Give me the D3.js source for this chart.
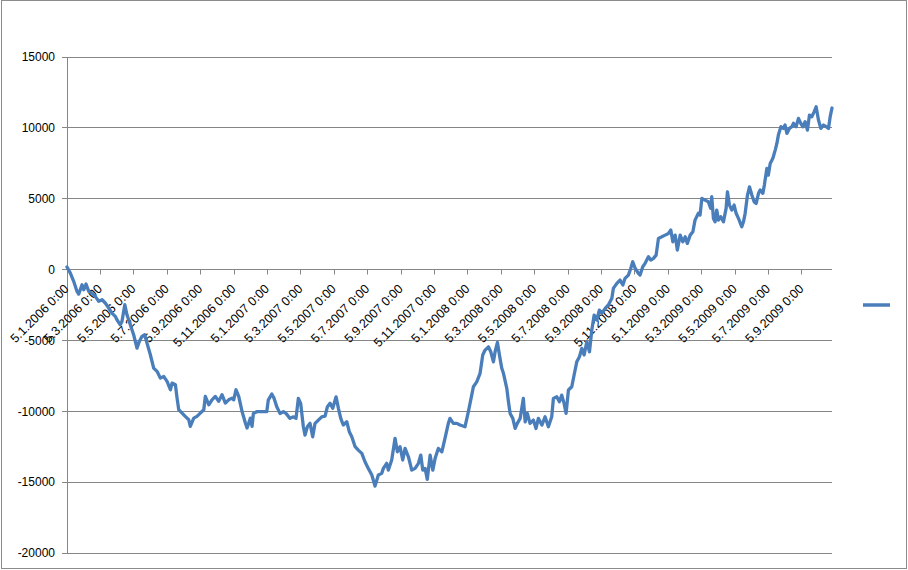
<!DOCTYPE html>
<html><head><meta charset="utf-8">
<script src="https://cdn.jsdelivr.net/npm/d3@7"></script>
<style>html,body{margin:0;padding:0;background:#fff;} svg{display:block;font-family:"Liberation Sans",Arial,sans-serif;}</style>
</head><body><svg id="c" width="908" height="570"></svg>
<script>
const tickLabels = ["5.1.2006 0:00","5.3.2006 0:00","5.5.2006 0:00","5.7.2006 0:00","5.9.2006 0:00","5.11.2006 0:00",
  "5.1.2007 0:00","5.3.2007 0:00","5.5.2007 0:00","5.7.2007 0:00","5.9.2007 0:00","5.11.2007 0:00",
  "5.1.2008 0:00","5.3.2008 0:00","5.5.2008 0:00","5.7.2008 0:00","5.9.2008 0:00","5.11.2008 0:00",
  "5.1.2009 0:00","5.3.2009 0:00","5.5.2009 0:00","5.7.2009 0:00","5.9.2009 0:00"];
const tickMonths = [0,2,4,6,8,10,12,14,16,18,20,22,24,26,28,30,32,34,36,38,40,42,44];
const yTicks = [-20000,-15000,-10000,-5000,0,5000,10000,15000];
// months since 5.1.2006
const months = [
0.00,0.20,0.40,0.60,0.70,0.90,1.00,1.14,1.30,1.50,
1.69,1.90,2.10,2.29,2.50,2.69,2.89,2.99,3.19,3.29,
3.46,3.59,3.79,3.99,4.19,4.33,4.49,4.65,4.79,4.99,
5.19,5.39,5.59,5.79,5.99,6.19,6.29,6.49,6.59,6.69,
6.89,7.08,7.29,7.38,7.59,7.78,7.98,8.19,8.28,8.49,
8.68,8.88,9.08,9.28,9.48,9.68,9.88,9.98,10.12,10.28,
10.48,10.68,10.78,10.98,11.08,11.16,11.36,11.96,12.05,12.26,
12.40,12.56,12.75,12.95,13.11,13.35,13.55,13.71,13.85,13.99,
14.15,14.25,14.39,14.55,14.71,14.85,15.05,15.25,15.45,15.59,
15.75,15.91,16.11,16.25,16.39,16.54,16.75,16.90,17.05,17.25,
17.44,17.65,17.84,18.04,18.25,18.44,18.64,18.84,18.94,19.14,
19.24,19.44,19.64,19.78,19.94,20.10,20.24,20.44,20.64,20.84,
21.04,21.18,21.30,21.44,21.57,21.74,21.90,22.04,22.23,22.44,
22.63,22.83,22.93,23.13,23.34,23.53,23.83,24.03,24.23,24.33,
24.53,24.73,24.89,25.03,25.23,25.37,25.53,25.63,25.77,25.89,
26.03,26.13,26.33,26.43,26.53,26.69,26.83,26.96,27.13,27.32,
27.43,27.56,27.72,27.92,28.08,28.22,28.43,28.62,28.82,29.02,
29.12,29.32,29.48,29.62,29.76,29.88,30.02,30.22,30.36,30.52,
30.68,30.82,30.96,31.12,31.28,31.42,31.56,31.72,31.87,32.02,
32.22,32.41,32.62,32.71,32.92,33.11,33.28,33.41,33.61,33.75,
33.87,34.01,34.21,34.31,34.47,34.61,34.81,34.95,35.11,35.27,
35.41,35.61,35.81,36.01,36.15,36.27,36.41,36.54,36.71,36.87,
37.01,37.14,37.31,37.47,37.60,37.80,37.90,38.01,38.20,38.40,
38.54,38.60,38.70,38.80,38.90,39.00,39.14,39.30,39.46,39.54,
39.66,39.80,39.94,40.06,40.20,40.40,40.50,40.60,40.74,40.86,
41.00,41.14,41.26,41.40,41.50,41.66,41.75,41.90,41.99,42.10,
42.26,42.40,42.50,42.59,42.74,42.89,42.99,43.10,43.25,43.40,
43.49,43.65,43.79,43.93,44.05,44.19,44.33,44.45,44.59,44.73,
44.85,44.99,45.13,45.29,45.45,45.59,45.69,45.75,45.80];
const values = [
180,-250,-830,-1540,-1730,-1070,-1425,-1020,-1540,-1660,
-1890,-2240,-2130,-2360,-2720,-3070,-3300,-3540,-3900,-3660,
-2480,-3190,-3900,-4600,-5540,-5070,-4710,-4600,-5190,-6010,
-6950,-7180,-7660,-7540,-7890,-8480,-8010,-8130,-9070,-9890,
-10130,-10360,-10600,-11060,-10480,-10360,-10130,-9890,-8950,-9540,
-9190,-8950,-9300,-8830,-9420,-9190,-9070,-9190,-8480,-8950,
-10010,-10830,-11180,-10480,-11060,-10150,-10030,-10030,-9210,-8780,
-9090,-9680,-10150,-10030,-10150,-10500,-10390,-10500,-9090,-9440,
-11090,-11680,-11090,-10850,-11800,-10850,-10620,-10390,-10340,-9680,
-9440,-9790,-8980,-9790,-10500,-10970,-10740,-11440,-11800,-12500,
-12740,-12970,-13560,-14030,-14500,-15280,-14500,-14380,-14030,-13670,
-14150,-13440,-11910,-12860,-12500,-13440,-12620,-13210,-14150,-14030,
-13670,-13090,-14150,-14030,-14800,-13090,-14150,-13320,-12620,-12860,
-11910,-10850,-10500,-10850,-10850,-10970,-11090,-10030,-8860,-8270,
-7920,-7320,-6030,-5680,-5450,-5800,-6510,-5800,-5140,-6030,
-6970,-7320,-8380,-9330,-10150,-10500,-11210,-10850,-10500,-9090,
-10740,-10150,-10850,-10620,-11210,-10500,-10970,-10390,-11090,-10390,
-9090,-8980,-9330,-8860,-9440,-10150,-8500,-8270,-7440,-6510,
-6150,-5560,-6030,-5090,-5800,-4270,-3210,-3560,-2860,-3090,
-2740,-2500,-2030,-1330,-970,-740,-1090,-620,-390,80,
550,110,-270,-390,200,440,900,670,790,1020,
2200,2310,2430,2550,2790,1960,2430,1380,2430,1960,
2310,1850,2430,2670,3490,3970,3850,5020,4900,4780,
4320,5140,3610,3370,4200,3490,3730,3370,4320,5490,
4550,4200,4550,3970,3610,3020,3370,3970,5260,5840,
5260,4780,4670,5380,5610,5380,5960,7140,6670,7490,
7850,8430,8900,9490,10080,9960,10200,9610,9960,10080,
10320,10080,10670,10320,10080,10430,9840,10900,10780,11130,
11490,10550,9960,10200,10080,9960,10780,11130,11400];

const W = 908, H = 570;
const svg = d3.select('#c');
svg.append('rect').attr('x',0).attr('y',0).attr('width',W).attr('height',H).attr('fill','#fff');
svg.append('rect').attr('x',1.5).attr('y',0.5).attr('width',W-3).attr('height',H-2)
  .attr('fill','none').attr('stroke','#8c8c8c').attr('stroke-width',1);

const x = d3.scaleLinear().domain([0,45.8]).range([67,832]);
const y = d3.scaleLinear().domain([-20000,15000]).range([553,57]);
const gridC = '#868686';
const px = v => Math.floor(v) + 0.5;

// gridlines + y ticks
const g = svg.append('g');
g.selectAll('line.grid').data(yTicks).join('line')
  .attr('x1',62).attr('x2',832)
  .attr('y1',d=>px(y(d))).attr('y2',d=>px(y(d)))
  .attr('stroke',gridC).attr('stroke-width',1);
// y axis line
g.append('line').attr('x1',67.5).attr('x2',67.5).attr('y1',px(y(15000))).attr('y2',px(y(-20000))+0.5)
  .attr('stroke',gridC);
// y labels
g.selectAll('text.yl').data(yTicks).join('text')
  .attr('x',55).attr('y',d=>y(d)).attr('dy','0.36em')
  .attr('text-anchor','end').attr('font-size',12).attr('fill','#000')
  .text(d=>d);

// x ticks on zero line
const y0 = px(y(0));
g.selectAll('line.xt').data(tickMonths).join('line')
  .attr('x1',d=>px(x(d))).attr('x2',d=>px(x(d)))
  .attr('y1',y0).attr('y2',y0+5).attr('stroke',gridC);

// series line
const data = months.map((m,i)=>({m, v: values[i]}));
const line = d3.line().x(d=>x(d.m)).y(d=>y(d.v));
svg.append('path').datum(data).attr('d',line)
  .attr('fill','none').attr('stroke','#4a7ebb').attr('stroke-width',3.3)
  .attr('stroke-linejoin','round').attr('stroke-linecap','round');

// x labels (rotated)
g.selectAll('text.xl').data(tickMonths).join('text')
  .attr('transform',d=>`translate(${x(d)+2.5},${y0+20}) rotate(-45)`)
  .attr('text-anchor','end').attr('font-size',12.5).attr('fill','#000')
  .text((d,i)=>tickLabels[i]);

// legend
svg.append('line').attr('x1',863).attr('x2',890).attr('y1',305).attr('y2',305)
  .attr('stroke','#4a7ebb').attr('stroke-width',3.5);
</script>
</body></html>
